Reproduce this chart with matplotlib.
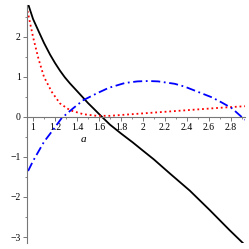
import numpy as np
import matplotlib
matplotlib.use("Agg")
import matplotlib.pyplot as plt
from matplotlib.ticker import MultipleLocator, FuncFormatter

# values
black_x = [0.958, 1.0, 1.048, 1.1, 1.155, 1.2, 1.245, 1.29, 1.336, 1.4, 1.457, 1.5, 1.548,
           1.61, 1.7, 1.8, 1.91, 2.0, 2.1, 2.245, 2.427, 2.61, 2.79, 2.918]
black_y = [2.8, 2.45, 2.16, 1.85, 1.56, 1.35, 1.16, 0.99, 0.84, 0.65, 0.48, 0.35, 0.22,
           0.05, -0.19, -0.41, -0.64, -0.84, -1.06, -1.41, -1.84, -2.33, -2.83, -3.17]

red_x = [0.95, 1.0, 1.05, 1.1, 1.17, 1.245, 1.336, 1.457, 1.58, 1.7, 1.9, 2.1, 2.3, 2.5,
         2.7, 2.93]
red_y = [2.65, 2.0, 1.45, 1.0, 0.63, 0.34, 0.17, 0.07, 0.03, 0.03, 0.07, 0.11, 0.15,
         0.19, 0.23, 0.27]

blue_x = [0.955, 1.0, 1.05, 1.1, 1.18, 1.26, 1.366, 1.457, 1.58, 1.69, 1.836, 1.95, 2.05,
          2.14, 2.29, 2.38, 2.5, 2.63, 2.72, 2.81, 2.9, 2.93]
blue_y = [-1.35, -1.1, -0.86, -0.62, -0.33, -0.03, 0.22, 0.42, 0.59, 0.73, 0.85, 0.89,
          0.9, 0.89, 0.83, 0.76, 0.63, 0.49, 0.36, 0.22, 0.0, -0.07]

x_ticks = [1, 1.2, 1.4, 1.6, 1.8, 2, 2.2, 2.4, 2.6, 2.8]
y_ticks = [-3, -2, -1, 0, 1, 2]

plt.rcParams["font.family"] = ["Liberation Serif", "DejaVu Serif"]

fig = plt.figure(figsize=(2.49, 2.49), dpi=100)
ax = fig.add_axes([27 / 249, 6 / 249, 218 / 249, 238 / 249])

ax.plot(black_x, black_y, color="black", lw=1.3)
ax.plot(red_x, red_y, color="red", lw=1.3, linestyle=(0, (1, 1.6)))
ax.plot(blue_x, blue_y, color="blue", lw=1.3, linestyle=(0, (5, 2, 1, 2)))

ax.set_xlim(0.945, 2.93)
ax.set_ylim(-3.15, 2.8)

for s in ["top", "right"]:
    ax.spines[s].set_visible(False)
ax.spines["bottom"].set_position(("data", 0))
for s in ["left", "bottom"]:
    ax.spines[s].set_color("#777777")
    ax.spines[s].set_linewidth(0.8)

ax.set_xticks(x_ticks)
ax.set_yticks(y_ticks)
ax.xaxis.set_minor_locator(MultipleLocator(0.1))
ax.yaxis.set_minor_locator(MultipleLocator(0.5))
fmt = FuncFormatter(lambda v, p: f"{v:g}".replace("-", "\u2212"))
ax.xaxis.set_major_formatter(fmt)
ax.yaxis.set_major_formatter(fmt)
ax.tick_params(which="major", direction="out", length=3, width=0.7, color="#777777",
               labelsize=7, pad=1.5)
ax.tick_params(which="minor", direction="out", length=1.5, width=0.6, color="#777777")

ax.text(1.455, -0.56, "a", fontsize=8, style="italic", ha="center", va="center")

fig.savefig("out.png", dpi=100)
